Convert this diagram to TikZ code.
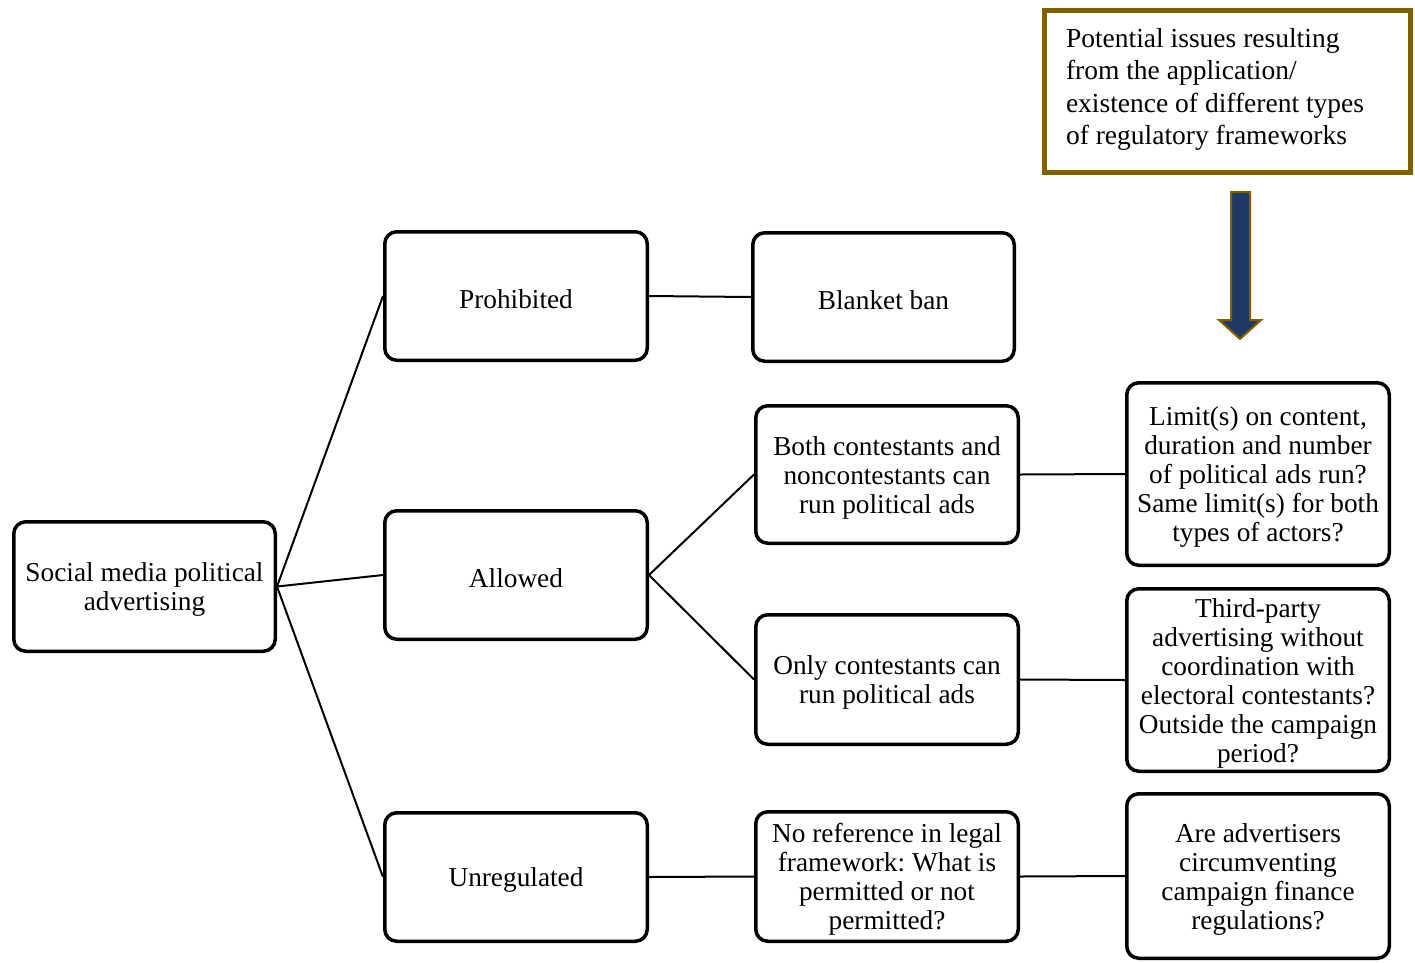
\documentclass[tikz,border=0pt]{standalone}
\usepackage{fontspec}
\setmainfont{Liberation Serif}
\frenchspacing
\begin{document}
\begin{tikzpicture}[x=1pt,y=-1pt,
  box/.style={draw=black,line width=3.5pt,rounded corners=12pt,
    font=\fontsize{27.3}{29}\selectfont,inner sep=0pt},
  link/.style={line width=2pt,black}]
\useasboundingbox (0,0) rectangle (1415,962);
\definecolor{gold}{HTML}{7F6000}
\definecolor{navy}{HTML}{203864}
\newcommand{\bx}[7]{\node[box,minimum width=#4-#2-3.5pt,minimum height=#5-#3-3.5pt] (#1) at ({(#2+#4)/2},{(#3+#5)/2}) {\raisebox{-3pt}[\height][\depth]{\parbox{#6}{\centering #7}}};}
\bx{root}{12}{520}{277}{653}{258pt}{Social media political\\advertising}
\bx{pro}{383}{230}{649}{362}{255pt}{Prohibited}
\bx{all}{383}{509}{649}{641}{255pt}{Allowed}
\bx{unr}{383}{811}{649}{943}{255pt}{Unregulated}
\bx{ban}{751}{231}{1016}{363}{255pt}{Blanket ban}
\bx{both}{754}{404}{1020}{545}{258pt}{Both contestants and\\noncontestants can\\run political ads}
\bx{only}{754}{613}{1020}{746}{258pt}{Only contestants can\\run political ads}
\bx{noref}{754}{810}{1020}{943}{258pt}{No reference in legal\\framework: What is\\permitted or not\\permitted?}
\bx{lim}{1125}{381}{1391}{567}{258pt}{Limit(s) on content,\\duration and number\\of political ads run?\\Same limit(s) for both\\types of actors?}
\bx{third}{1125}{587}{1391}{773}{258pt}{Third-party\\advertising without\\coordination with\\electoral contestants?\\Outside the campaign\\period?}
\bx{circ}{1125}{792}{1391}{960}{258pt}{Are advertisers\\circumventing\\campaign finance\\regulations?}
\node[draw=gold,line width=5pt,minimum width=366pt,minimum height=162pt,
  font=\fontsize{27.5}{32.3}\selectfont,inner sep=0pt]
  (issues) at (1227.5,91.5) {\raisebox{2pt}[\height][\depth]{\parbox{323pt}{\raggedright Potential issues resulting\\from the application/\\existence of different types\\of regulatory frameworks}}};
\draw[link] (root.east) -- (pro.west);
\draw[link] (root.east) -- (all.west);
\draw[link] (root.east) -- (unr.west);
\draw[link] (pro.east) -- (ban.west);
\draw[link] (all.east) -- (both.west);
\draw[link] (all.east) -- (only.west);
\draw[link] (unr.east) -- (noref.west);
\draw[link] (both.east) -- (lim.west);
\draw[link] (only.east) -- (third.west);
\draw[link] (noref.east) -- (circ.west);
\draw[fill=navy,draw=gold,line width=2pt,line join=miter]
  (1231,192) -- (1250,192) -- (1250,320) -- (1261,320) -- (1240,339) -- (1219,320) -- (1231,320) -- cycle;
\end{tikzpicture}
\end{document}
